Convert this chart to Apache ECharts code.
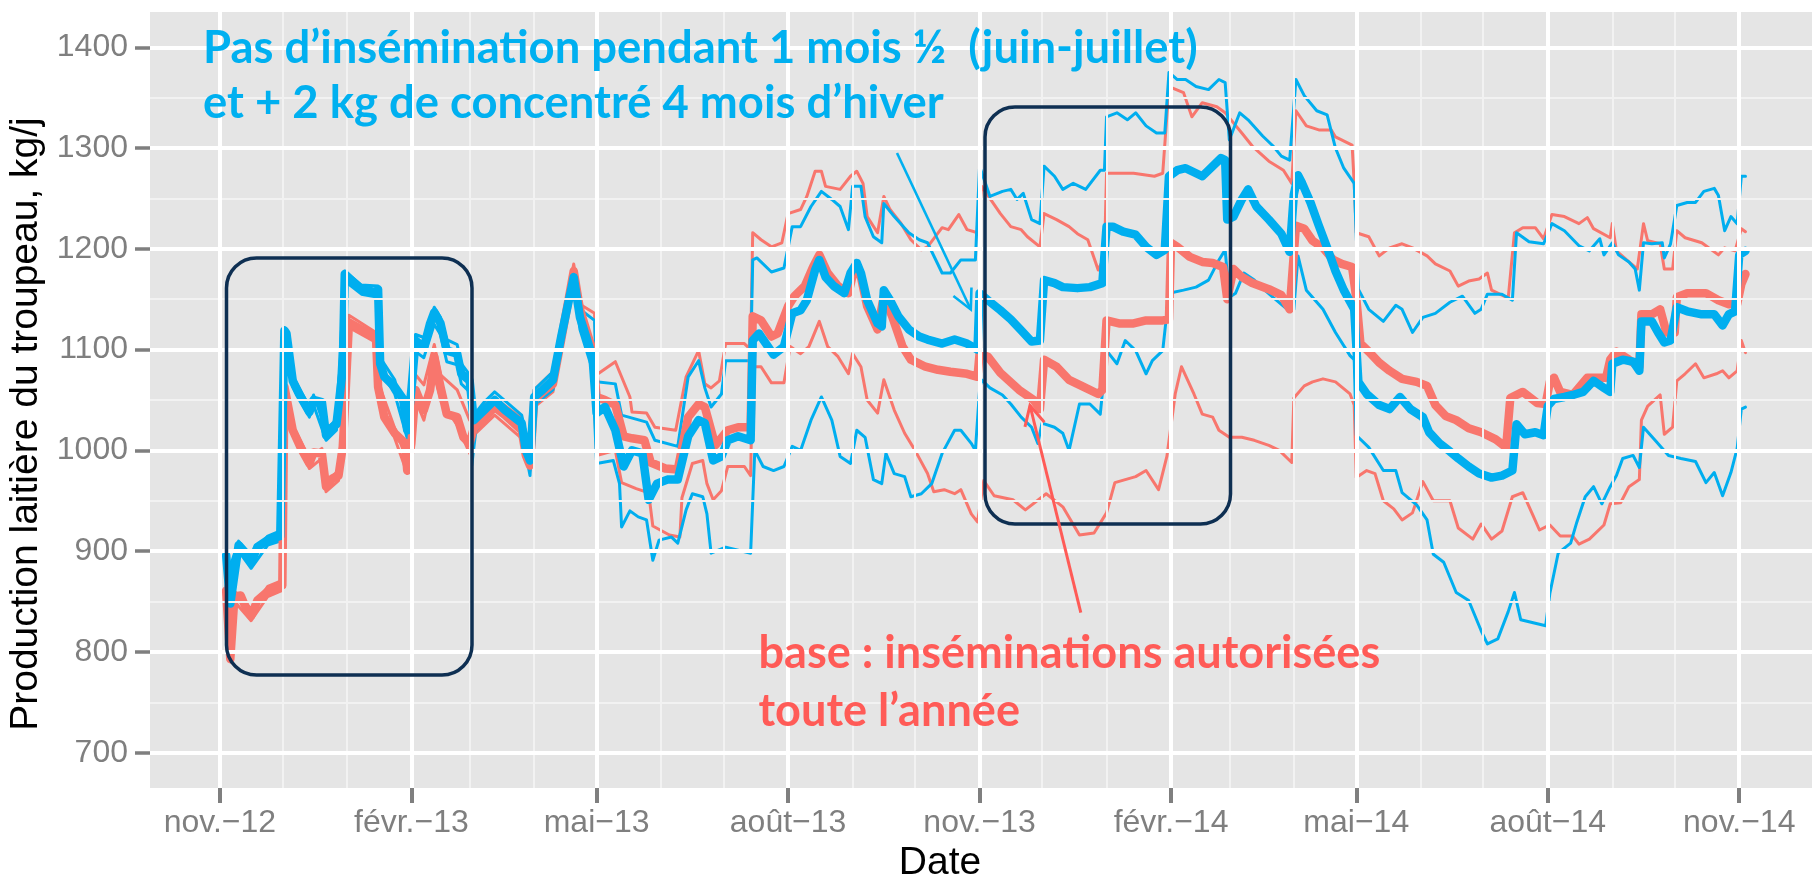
<!DOCTYPE html>
<html>
<head>
<meta charset="utf-8">
<script src="https://cdn.jsdelivr.net/npm/echarts@6/dist/echarts.min.js"></script>
<style>
  html, body { margin: 0; padding: 0; background: #fff; }
  #chart { width: 1812px; height: 875px; }
</style>
</head>
<body>
<div id="chart"></div>
<script>
// axis ticks
const xTickDates = ['2012-11-01', '2013-02-01', '2013-05-01', '2013-08-01', '2013-11-01', '2014-02-01', '2014-05-01', '2014-08-01', '2014-11-01']
const xTickLabels = ['nov.−12', 'févr.−13', 'mai−13', 'août−13', 'nov.−13', 'févr.−14', 'mai−14', 'août−14', 'nov.−14']
const xMinorDates = ['2012-12-01', '2013-01-01', '2013-03-01', '2013-04-01', '2013-06-01', '2013-07-01', '2013-09-01', '2013-10-01',
  '2013-12-01', '2014-01-01', '2014-03-01', '2014-04-01', '2014-06-01', '2014-07-01', '2014-09-01', '2014-10-01']
const yTicks = [700, 800, 900, 1000, 1100, 1200, 1300, 1400]
const yMinor = [750, 850, 950, 1050, 1150, 1250, 1350]

// base : inséminations autorisées toute l'année (rouge)
const baseMean = [['2012-11-04',861],['2012-11-06',793],['2012-11-08',855],['2012-11-11',856],['2012-11-13',846],['2012-11-16',836],['2012-11-19',851],['2012-11-24',860],['2012-12-01',866],['2012-12-02',1063],['2012-12-06',1020],['2012-12-10',1002],['2012-12-14',987],['2012-12-16',998],['2012-12-20',997],['2012-12-22',964],['2012-12-25',972],['2012-12-28',975],['2012-12-30',1003],['2012-12-31',1040],['2013-01-02',1127],['2013-01-08',1120],['2013-01-15',1112],['2013-01-16',1063],['2013-01-19',1033],['2013-01-24',1017],['2013-01-29',1007],['2013-01-30',980],['2013-02-01',1007],['2013-02-03',1060],['2013-02-07',1040],['2013-02-10',1060],['2013-02-12',1093],['2013-02-15',1063],['2013-02-18',1036],['2013-02-23',1033],['2013-02-26',1013],['2013-03-01',1007],['2013-03-03',1022],['2013-03-08',1032],['2013-03-13',1043],['2013-03-18',1035],['2013-03-26',1020],['2013-03-28',995],['2013-03-30',985],['2013-04-01',1050],['2013-04-05',1058],['2013-04-10',1066],['2013-04-14',1110],['2013-04-20',1178],['2013-04-23',1140],['2013-04-27',1113],['2013-04-29',1100],['2013-05-01',1053],['2013-05-05',1050],['2013-05-10',1045],['2013-05-14',1014],['2013-05-18',1012],['2013-05-24',1010],['2013-05-27',988],['2013-06-03',982],['2013-06-09',981],['2013-06-14',1033],['2013-06-19',1046],['2013-06-22',1043],['2013-06-27',1005],['2013-07-03',1020],['2013-07-08',1023],['2013-07-14',1023],['2013-07-15',1133],['2013-07-19',1129],['2013-07-24',1113],['2013-07-27',1116],['2013-08-01',1143],['2013-08-04',1153],['2013-08-09',1163],['2013-08-13',1182],['2013-08-16',1194],['2013-08-20',1176],['2013-08-25',1163],['2013-08-30',1156],['2013-09-02',1182],['2013-09-05',1172],['2013-09-08',1143],['2013-09-13',1120],['2013-09-16',1153],['2013-09-20',1133],['2013-09-25',1103],['2013-09-29',1090],['2013-10-06',1083],['2013-10-12',1080],['2013-10-18',1078],['2013-10-26',1076],['2013-10-31',1073],['2013-11-01',1096],['2013-11-05',1093],['2013-11-11',1077],['2013-11-20',1060],['2013-11-27',1050],['2013-11-30',1041],['2013-12-02',1090],['2013-12-08',1083],['2013-12-14',1070],['2013-12-21',1063],['2013-12-28',1056],['2013-12-30',1060],['2014-01-01',1129],['2014-01-07',1126],['2014-01-14',1126],['2014-01-20',1129],['2014-01-28',1129],['2014-01-31',1130],['2014-02-01',1206],['2014-02-04',1202],['2014-02-10',1192],['2014-02-16',1187],['2014-02-21',1186],['2014-02-26',1182],['2014-02-28',1150],['2014-03-03',1180],['2014-03-07',1172],['2014-03-12',1166],['2014-03-20',1160],['2014-03-26',1154],['2014-03-30',1140],['2014-04-02',1223],['2014-04-06',1220],['2014-04-10',1208],['2014-04-15',1201],['2014-04-20',1189],['2014-04-24',1185],['2014-04-29',1182],['2014-05-01',1151],['2014-05-03',1106],['2014-05-07',1098],['2014-05-12',1087],['2014-05-17',1079],['2014-05-23',1071],['2014-05-30',1068],['2014-06-04',1064],['2014-06-08',1045],['2014-06-13',1034],['2014-06-18',1030],['2014-06-24',1022],['2014-06-30',1018],['2014-07-07',1011],['2014-07-12',1003],['2014-07-14',1052],['2014-07-20',1058],['2014-07-27',1047],['2014-07-31',1046],['2014-08-02',1068],['2014-08-04',1072],['2014-08-07',1058],['2014-08-13',1055],['2014-08-20',1072],['2014-08-29',1072],['2014-08-31',1090],['2014-09-03',1098],['2014-09-09',1090],['2014-09-14',1083],['2014-09-15',1135],['2014-09-20',1135],['2014-09-24',1140],['2014-09-27',1117],['2014-10-01',1117],['2014-10-02',1152],['2014-10-07',1156],['2014-10-16',1156],['2014-10-22',1149],['2014-10-27',1145],['2014-10-31',1145],['2014-11-02',1165],['2014-11-04',1175]]
const baseHigh = [['2012-11-04',866],['2012-11-06',800],['2012-11-08',860],['2012-11-13',851],['2012-11-16',841],['2012-11-24',865],['2012-12-01',871],['2012-12-02',1068],['2012-12-06',1025],['2012-12-14',992],['2012-12-20',1002],['2012-12-22',969],['2012-12-28',980],['2012-12-31',1045],['2013-01-02',1134],['2013-01-15',1117],['2013-01-16',1068],['2013-01-24',1022],['2013-01-30',990],['2013-02-03',1075],['2013-02-07',1065],['2013-02-12',1105],['2013-02-15',1075],['2013-02-23',1060],['2013-03-01',1030],['2013-03-08',1045],['2013-03-13',1052],['2013-03-26',1032],['2013-03-30',995],['2013-04-01',1060],['2013-04-10',1078],['2013-04-20',1185],['2013-04-23',1145],['2013-04-30',1136],['2013-05-01',1075],['2013-05-10',1088],['2013-05-17',1053],['2013-05-18',1038],['2013-05-25',1037],['2013-05-29',1023],['2013-06-08',1020],['2013-06-13',1073],['2013-06-19',1099],['2013-06-22',1066],['2013-06-25',1062],['2013-06-29',1069],['2013-07-02',1106],['2013-07-11',1106],['2013-07-14',1100],['2013-07-15',1216],['2013-07-19',1209],['2013-07-24',1202],['2013-07-29',1206],['2013-08-01',1235],['2013-08-07',1239],['2013-08-10',1252],['2013-08-14',1277],['2013-08-17',1277],['2013-08-19',1262],['2013-08-26',1259],['2013-08-31',1272],['2013-09-03',1277],['2013-09-06',1265],['2013-09-08',1232],['2013-09-13',1216],['2013-09-16',1252],['2013-09-19',1239],['2013-09-24',1226],['2013-09-29',1209],['2013-10-04',1199],['2013-10-07',1202],['2013-10-14',1221],['2013-10-17',1219],['2013-10-22',1234],['2013-10-26',1219],['2013-10-31',1216],['2013-11-02',1262],['2013-11-11',1235],['2013-11-16',1222],['2013-11-21',1219],['2013-11-24',1212],['2013-11-30',1202],['2013-12-02',1235],['2013-12-08',1229],['2013-12-14',1222],['2013-12-18',1215],['2013-12-23',1209],['2013-12-28',1179],['2013-12-31',1192],['2014-01-01',1275],['2014-01-08',1275],['2014-01-14',1275],['2014-01-24',1272],['2014-01-28',1275],['2014-01-31',1361],['2014-02-07',1355],['2014-02-11',1331],['2014-02-16',1345],['2014-02-23',1341],['2014-02-27',1335],['2014-03-03',1325],['2014-03-07',1315],['2014-03-12',1302],['2014-03-20',1287],['2014-03-27',1278],['2014-03-31',1265],['2014-04-02',1337],['2014-04-07',1322],['2014-04-13',1318],['2014-04-19',1318],['2014-04-21',1311],['2014-04-29',1303],['2014-04-30',1265],['2014-05-01',1216],['2014-05-07',1212],['2014-05-12',1193],['2014-05-17',1201],['2014-05-23',1205],['2014-05-28',1201],['2014-06-04',1193],['2014-06-08',1185],['2014-06-15',1178],['2014-06-19',1163],['2014-06-24',1168],['2014-06-29',1170],['2014-07-03',1176],['2014-07-05',1159],['2014-07-13',1151],['2014-07-16',1216],['2014-07-20',1221],['2014-07-26',1221],['2014-07-30',1210],['2014-08-03',1234],['2014-08-09',1232],['2014-08-16',1225],['2014-08-20',1231],['2014-08-23',1220],['2014-08-31',1211],['2014-09-01',1225],['2014-09-03',1198],['2014-09-09',1187],['2014-09-13',1180],['2014-09-16',1225],['2014-09-18',1208],['2014-09-24',1205],['2014-09-26',1180],['2014-09-30',1180],['2014-10-02',1218],['2014-10-06',1211],['2014-10-14',1206],['2014-10-22',1194],['2014-10-25',1201],['2014-10-30',1198],['2014-11-02',1220],['2014-11-04',1217]]
const baseLow = [['2012-11-04',856],['2012-11-06',790],['2012-11-08',850],['2012-11-16',831],['2012-11-24',855],['2012-12-01',861],['2012-12-02',1058],['2012-12-06',1015],['2012-12-14',982],['2012-12-20',992],['2012-12-22',959],['2012-12-28',970],['2012-12-31',1035],['2013-01-02',1122],['2013-01-15',1107],['2013-01-16',1058],['2013-01-24',1012],['2013-01-30',977],['2013-02-03',1050],['2013-02-07',1030],['2013-02-12',1075],['2013-02-15',1050],['2013-02-23',1025],['2013-03-01',997],['2013-03-03',1015],['2013-03-13',1035],['2013-03-26',1012],['2013-03-30',980],['2013-04-01',1043],['2013-04-10',1058],['2013-04-20',1170],['2013-04-23',1130],['2013-04-29',1090],['2013-05-01',995],['2013-05-10',1000],['2013-05-13',968],['2013-05-20',962],['2013-05-26',958],['2013-05-28',925],['2013-06-05',916],['2013-06-10',914],['2013-06-11',953],['2013-06-16',987],['2013-06-21',990],['2013-06-23',967],['2013-06-26',951],['2013-06-30',960],['2013-07-03',984],['2013-07-11',984],['2013-07-14',975],['2013-07-15',1083],['2013-07-19',1083],['2013-07-24',1067],['2013-07-30',1067],['2013-08-02',1103],['2013-08-07',1096],['2013-08-11',1103],['2013-08-16',1128],['2013-08-20',1103],['2013-08-25',1093],['2013-08-30',1076],['2013-09-01',1096],['2013-09-05',1083],['2013-09-08',1050],['2013-09-13',1037],['2013-09-16',1070],['2013-09-21',1040],['2013-09-26',1017],['2013-10-01',1000],['2013-10-07',977],['2013-10-10',959],['2013-10-15',961],['2013-10-20',957],['2013-10-23',961],['2013-10-28',937],['2013-10-31',929],['2013-11-03',970],['2013-11-08',955],['2013-11-17',951],['2013-11-23',941],['2013-12-03',957],['2013-12-11',944],['2013-12-19',916],['2013-12-26',918],['2014-01-01',938],['2014-01-05',968],['2014-01-15',974],['2014-01-20',980],['2014-01-26',961],['2014-01-30',994],['2014-02-03',1056],['2014-02-06',1083],['2014-02-12',1056],['2014-02-16',1036],['2014-02-21',1033],['2014-02-24',1020],['2014-03-01',1013],['2014-03-07',1013],['2014-03-13',1010],['2014-03-20',1005],['2014-03-25',1000],['2014-03-31',988],['2014-04-01',1052],['2014-04-06',1064],['2014-04-10',1068],['2014-04-15',1071],['2014-04-21',1068],['2014-04-28',1056],['2014-04-30',1045],['2014-05-01',973],['2014-05-06',980],['2014-05-10',977],['2014-05-14',950],['2014-05-19',942],['2014-05-23',931],['2014-05-28',938],['2014-06-02',969],['2014-06-07',950],['2014-06-15',950],['2014-06-19',923],['2014-06-26',912],['2014-06-30',927],['2014-07-05',912],['2014-07-10',920],['2014-07-15',954],['2014-07-20',958],['2014-07-25',935],['2014-07-28',921],['2014-08-02',926],['2014-08-07',915],['2014-08-13',915],['2014-08-16',907],['2014-08-21',912],['2014-08-28',926],['2014-08-31',947],['2014-09-05',948],['2014-09-09',964],['2014-09-14',971],['2014-09-15',1030],['2014-09-18',1044],['2014-09-24',1055],['2014-09-26',1016],['2014-09-30',1023],['2014-10-02',1069],['2014-10-06',1076],['2014-10-11',1086],['2014-10-15',1072],['2014-10-21',1076],['2014-10-24',1079],['2014-10-27',1072],['2014-10-31',1079],['2014-11-02',1109],['2014-11-04',1097]]

// pas d'insémination 1 mois ½ + 2 kg de concentré (bleu)
const altMean = [['2012-11-04',896],['2012-11-06',848],['2012-11-10',906],['2012-11-13',899],['2012-11-16',889],['2012-11-19',904],['2012-11-24',911],['2012-11-30',915],['2012-12-02',1119],['2012-12-03',1116],['2012-12-06',1069],['2012-12-09',1056],['2012-12-14',1038],['2012-12-16',1050],['2012-12-20',1048],['2012-12-22',1015],['2012-12-25',1023],['2012-12-27',1026],['2012-12-30',1080],['2012-12-31',1175],['2013-01-03',1169],['2013-01-08',1160],['2013-01-15',1157],['2013-01-16',1160],['2013-01-17',1086],['2013-01-19',1073],['2013-01-24',1063],['2013-01-28',1051],['2013-01-30',1020],['2013-02-01',1060],['2013-02-03',1109],['2013-02-07',1102],['2013-02-10',1126],['2013-02-12',1137],['2013-02-15',1126],['2013-02-18',1099],['2013-02-23',1096],['2013-02-25',1076],['2013-03-01',1069],['2013-03-03',1030],['2013-03-08',1040],['2013-03-13',1050],['2013-03-18',1040],['2013-03-26',1027],['2013-03-28',1000],['2013-03-30',990],['2013-04-01',1053],['2013-04-05',1060],['2013-04-10',1070],['2013-04-14',1113],['2013-04-20',1172],['2013-04-23',1132],['2013-04-27',1106],['2013-04-29',1093],['2013-05-01',1037],['2013-05-05',1043],['2013-05-10',1020],['2013-05-14',984],['2013-05-18',1000],['2013-05-23',997],['2013-05-26',951],['2013-05-30',967],['2013-06-04',971],['2013-06-09',971],['2013-06-14',1014],['2013-06-19',1030],['2013-06-22',1027],['2013-06-26',990],['2013-06-30',994],['2013-07-03',1010],['2013-07-08',1014],['2013-07-14',1010],['2013-07-15',1109],['2013-07-18',1116],['2013-07-25',1095],['2013-07-30',1103],['2013-08-03',1136],['2013-08-07',1139],['2013-08-10',1149],['2013-08-14',1179],['2013-08-16',1189],['2013-08-19',1172],['2013-08-23',1163],['2013-08-28',1156],['2013-08-31',1176],['2013-09-03',1186],['2013-09-05',1176],['2013-09-08',1149],['2013-09-13',1126],['2013-09-15',1123],['2013-09-16',1159],['2013-09-19',1149],['2013-09-23',1133],['2013-09-28',1120],['2013-10-03',1113],['2013-10-07',1110],['2013-10-14',1106],['2013-10-20',1110],['2013-10-26',1106],['2013-10-31',1100],['2013-11-01',1156],['2013-11-05',1149],['2013-11-11',1139],['2013-11-16',1130],['2013-11-21',1119],['2013-11-26',1108],['2013-11-30',1109],['2013-12-02',1169],['2013-12-07',1166],['2013-12-11',1162],['2013-12-18',1161],['2013-12-24',1162],['2013-12-30',1166],['2014-01-01',1222],['2014-01-04',1222],['2014-01-09',1217],['2014-01-15',1214],['2014-01-20',1202],['2014-01-25',1194],['2014-01-29',1199],['2014-01-31',1272],['2014-02-04',1278],['2014-02-08',1280],['2014-02-13',1275],['2014-02-16',1272],['2014-02-19',1278],['2014-02-25',1290],['2014-02-27',1288],['2014-02-28',1229],['2014-03-03',1232],['2014-03-07',1249],['2014-03-10',1259],['2014-03-14',1242],['2014-03-20',1229],['2014-03-26',1215],['2014-03-30',1197],['2014-04-01',1254],['2014-04-03',1273],['2014-04-05',1265],['2014-04-09',1246],['2014-04-13',1223],['2014-04-17',1201],['2014-04-21',1178],['2014-04-25',1159],['2014-04-30',1140],['2014-05-02',1068],['2014-05-06',1056],['2014-05-12',1045],['2014-05-17',1041],['2014-05-22',1053],['2014-05-27',1041],['2014-06-02',1033],['2014-06-05',1018],['2014-06-10',1007],['2014-06-15',999],['2014-06-19',992],['2014-06-24',984],['2014-06-29',977],['2014-07-05',973],['2014-07-10',975],['2014-07-15',980],['2014-07-17',1026],['2014-07-21',1016],['2014-07-26',1018],['2014-07-30',1015],['2014-08-01',1044],['2014-08-04',1051],['2014-08-09',1053],['2014-08-13',1055],['2014-08-18',1058],['2014-08-23',1069],['2014-08-28',1062],['2014-08-31',1058],['2014-09-01',1086],['2014-09-06',1090],['2014-09-11',1088],['2014-09-14',1079],['2014-09-15',1128],['2014-09-20',1128],['2014-09-23',1117],['2014-09-26',1107],['2014-09-29',1109],['2014-10-02',1142],['2014-10-07',1138],['2014-10-14',1135],['2014-10-20',1135],['2014-10-24',1124],['2014-10-27',1135],['2014-10-30',1138],['2014-11-01',1194],['2014-11-04',1198]]
const altHigh = [['2012-11-04',900],['2012-11-06',885],['2012-11-10',910],['2012-11-16',895],['2012-11-24',915],['2012-11-30',920],['2012-12-02',1122],['2012-12-06',1074],['2012-12-14',1043],['2012-12-16',1055],['2012-12-22',1020],['2012-12-27',1031],['2012-12-31',1178],['2013-01-08',1164],['2013-01-16',1163],['2013-01-17',1092],['2013-01-24',1070],['2013-01-30',1028],['2013-02-01',1070],['2013-02-03',1115],['2013-02-07',1112],['2013-02-12',1142],['2013-02-15',1132],['2013-02-18',1110],['2013-02-23',1105],['2013-02-25',1086],['2013-03-01',1075],['2013-03-03',1035],['2013-03-08',1048],['2013-03-13',1058],['2013-03-26',1035],['2013-03-30',998],['2013-04-01',1060],['2013-04-10',1078],['2013-04-20',1180],['2013-04-23',1140],['2013-04-30',1129],['2013-05-01',1068],['2013-05-10',1066],['2013-05-13',1035],['2013-05-25',1028],['2013-05-29',1010],['2013-06-09',1004],['2013-06-14',1073],['2013-06-19',1089],['2013-06-22',1062],['2013-06-25',1043],['2013-06-30',1056],['2013-07-02',1089],['2013-07-14',1089],['2013-07-15',1189],['2013-07-17',1191],['2013-07-24',1177],['2013-07-30',1181],['2013-08-03',1222],['2013-08-07',1222],['2013-08-12',1242],['2013-08-17',1257],['2013-08-22',1249],['2013-08-26',1242],['2013-08-30',1219],['2013-09-01',1262],['2013-09-05',1262],['2013-09-07',1232],['2013-09-11',1212],['2013-09-15',1206],['2013-09-16',1245],['2013-09-21',1232],['2013-09-28',1216],['2013-10-03',1209],['2013-10-07',1206],['2013-10-14',1176],['2013-10-18',1176],['2013-10-23',1189],['2013-10-30',1189],['2013-11-01',1282],['2013-11-06',1252],['2013-11-12',1257],['2013-11-16',1259],['2013-11-19',1249],['2013-11-22',1255],['2013-11-26',1229],['2013-11-30',1225],['2013-12-02',1282],['2013-12-07',1272],['2013-12-11',1259],['2013-12-16',1265],['2013-12-22',1259],['2013-12-29',1278],['2013-12-31',1278],['2014-01-01',1331],['2014-01-06',1335],['2014-01-11',1328],['2014-01-15',1335],['2014-01-20',1322],['2014-01-25',1315],['2014-01-29',1315],['2014-01-31',1375],['2014-02-04',1368],['2014-02-08',1368],['2014-02-13',1361],['2014-02-19',1358],['2014-02-24',1368],['2014-02-27',1365],['2014-03-01',1308],['2014-03-06',1335],['2014-03-10',1328],['2014-03-17',1312],['2014-03-22',1302],['2014-03-26',1292],['2014-03-30',1288],['2014-04-02',1368],['2014-04-06',1352],['2014-04-12',1337],['2014-04-17',1333],['2014-04-21',1300],['2014-04-25',1280],['2014-04-30',1265],['2014-05-02',1160],['2014-05-07',1140],['2014-05-14',1128],['2014-05-20',1144],['2014-05-23',1140],['2014-05-28',1117],['2014-06-02',1132],['2014-06-08',1136],['2014-06-15',1147],['2014-06-21',1153],['2014-06-27',1136],['2014-06-30',1140],['2014-07-03',1155],['2014-07-10',1155],['2014-07-15',1149],['2014-07-17',1216],['2014-07-23',1207],['2014-07-30',1205],['2014-08-03',1225],['2014-08-09',1218],['2014-08-16',1203],['2014-08-21',1198],['2014-08-26',1210],['2014-08-28',1194],['2014-09-01',1206],['2014-09-04',1194],['2014-09-09',1187],['2014-09-12',1180],['2014-09-14',1159],['2014-09-16',1206],['2014-09-20',1205],['2014-09-25',1206],['2014-09-26',1191],['2014-09-29',1205],['2014-10-02',1243],['2014-10-07',1246],['2014-10-11',1246],['2014-10-15',1257],['2014-10-20',1260],['2014-10-22',1253],['2014-10-25',1218],['2014-10-28',1232],['2014-10-31',1225],['2014-11-02',1272],['2014-11-04',1272]]
const altLow = [['2012-11-04',890],['2012-11-06',840],['2012-11-10',900],['2012-11-16',883],['2012-11-24',906],['2012-11-30',910],['2012-12-02',1110],['2012-12-06',1063],['2012-12-14',1033],['2012-12-16',1045],['2012-12-22',1010],['2012-12-27',1020],['2012-12-31',1168],['2013-01-08',1155],['2013-01-16',1152],['2013-01-17',1080],['2013-01-24',1056],['2013-01-30',1012],['2013-02-01',1050],['2013-02-03',1098],['2013-02-07',1092],['2013-02-12',1125],['2013-02-15',1115],['2013-02-18',1088],['2013-02-23',1085],['2013-02-25',1066],['2013-03-01',1058],['2013-03-02',985],['2013-03-04',1020],['2013-03-08',1030],['2013-03-13',1042],['2013-03-26',1018],['2013-03-30',975],['2013-04-01',1045],['2013-04-10',1060],['2013-04-20',1165],['2013-04-23',1120],['2013-04-29',1080],['2013-05-01',987],['2013-05-09',990],['2013-05-12',967],['2013-05-13',924],['2013-05-17',940],['2013-05-21',934],['2013-05-25',931],['2013-05-28',891],['2013-05-31',911],['2013-06-06',914],['2013-06-09',908],['2013-06-13',941],['2013-06-16',957],['2013-06-21',954],['2013-06-23',937],['2013-06-25',898],['2013-07-02',904],['2013-07-14',898],['2013-07-16',1000],['2013-07-20',984],['2013-07-25',980],['2013-07-30',984],['2013-08-03',1004],['2013-08-07',1000],['2013-08-12',1030],['2013-08-17',1053],['2013-08-22',1030],['2013-08-26',994],['2013-08-31',987],['2013-09-03',1020],['2013-09-07',1013],['2013-09-11',971],['2013-09-15',967],['2013-09-17',997],['2013-09-21',977],['2013-09-26',974],['2013-09-29',954],['2013-10-04',957],['2013-10-09',967],['2013-10-14',997],['2013-10-20',1020],['2013-10-23',1020],['2013-10-28',1007],['2013-10-30',1000],['2013-11-01',1060],['2013-11-02',1070],['2013-11-06',1062],['2013-11-12',1055],['2013-11-16',1046],['2013-11-21',1033],['2013-11-26',1023],['2013-11-29',1007],['2013-12-01',1027],['2013-12-07',1023],['2013-12-11',1017],['2013-12-14',1000],['2013-12-19',1046],['2013-12-24',1046],['2013-12-29',1036],['2014-01-01',1099],['2014-01-06',1086],['2014-01-10',1109],['2014-01-15',1099],['2014-01-20',1076],['2014-01-23',1089],['2014-01-28',1099],['2014-01-31',1156],['2014-02-07',1159],['2014-02-13',1162],['2014-02-19',1169],['2014-02-24',1189],['2014-02-27',1199],['2014-03-01',1152],['2014-03-04',1156],['2014-03-08',1176],['2014-03-13',1169],['2014-03-18',1159],['2014-03-23',1150],['2014-03-30',1138],['2014-04-01',1140],['2014-04-03',1193],['2014-04-07',1159],['2014-04-15',1140],['2014-04-21',1117],['2014-04-28',1094],['2014-04-30',1090],['2014-05-01',1015],['2014-05-07',1003],['2014-05-14',980],['2014-05-20',980],['2014-05-23',958],['2014-05-30',946],['2014-06-04',931],['2014-06-07',897],['2014-06-12',889],['2014-06-18',859],['2014-06-24',851],['2014-06-30',821],['2014-07-03',808],['2014-07-08',813],['2014-07-13',840],['2014-07-16',859],['2014-07-19',832],['2014-07-31',826],['2014-08-02',858],['2014-08-06',898],['2014-08-12',908],['2014-08-15',929],['2014-08-19',954],['2014-08-23',964],['2014-08-27',947],['2014-08-31',964],['2014-09-03',975],['2014-09-06',992],['2014-09-11',995],['2014-09-14',983],['2014-09-16',1023],['2014-09-22',1009],['2014-09-28',995],['2014-10-04',992],['2014-10-11',989],['2014-10-16',968],['2014-10-20',978],['2014-10-24',955],['2014-10-28',978],['2014-10-31',1002],['2014-11-02',1041],['2014-11-04',1043]]

const RED = '#F8766D'
const BLUE = '#00AEEF'
const GREY = '#7F7F7F'
const parse = s => echarts.time.parse(s).getTime()
const toXY = arr => arr.map(([d, v]) => [parse(d), v])

const chart = echarts.init(document.getElementById('chart'), null, { renderer: 'canvas' })

// annotation text sizing (Calibri-like bold, fitted to the slide widths)
const blueLines = ['Pas d’insémination pendant 1 mois ½  (juin-juillet)', 'et + 2 kg de concentré 4 mois d’hiver']
const redLines = ['base : inséminations autorisées', 'toute l’année']
const ctx = document.createElement('canvas').getContext('2d')
function fitSize(text, width) {
  ctx.font = 'bold 100px Lato'
  return 100 * width / ctx.measureText(text).width
}
const blueSize = fitSize(blueLines[0], 995)
const redSize = fitSize(redLines[0], 622)

function label(text, x, y, size, color) {
  return {
    type: 'text', x: x, y: y, z: 100,
    style: { text: text, fontSize: size, fontWeight: 'bold', fontFamily: 'Lato', fill: color, align: 'left', verticalAlign: 'middle' }
  }
}
function arrow(x1, y1, x2, y2, color, width) {
  const a = Math.atan2(y2 - y1, x2 - x1)
  const len = 22, t = 27 * Math.PI / 180
  const p1 = [x2 - len * Math.cos(a - t), y2 - len * Math.sin(a - t)]
  const p2 = [x2 - len * Math.cos(a + t), y2 - len * Math.sin(a + t)]
  return [
    { type: 'line', z: 100, shape: { x1: x1, y1: y1, x2: x2, y2: y2 }, style: { stroke: color, lineWidth: width } },
    { type: 'polyline', z: 100, shape: { points: [p1, [x2, y2], p2] }, style: { stroke: color, lineWidth: width, fill: null } }
  ]
}
function box(x, y) {
  return {
    type: 'rect', z: 100, shape: { x: x, y: y, width: 245.5, height: 417, r: 30 },
    style: { fill: null, stroke: '#0E2F52', lineWidth: 3.5 }
  }
}

function lineSeries(name, data, color, width) {
  return {
    name: name, type: 'line', data: toXY(data), showSymbol: false, symbol: 'none', z: 3,
    lineStyle: { color: color, width: width, cap: 'round', join: 'round' },
    emphasis: { disabled: true }
  }
}

const gridLines = []
xMinorDates.forEach(d => gridLines.push({ xAxis: parse(d), lineStyle: { color: '#F2F2F2', width: 2, type: 'solid' } }))
yMinor.forEach(v => gridLines.push({ yAxis: v, lineStyle: { color: '#F2F2F2', width: 2, type: 'solid' } }))
xTickDates.forEach(d => gridLines.push({ xAxis: parse(d), lineStyle: { color: '#FFFFFF', width: 4, type: 'solid' } }))
yTicks.forEach(v => gridLines.push({ yAxis: v, lineStyle: { color: '#FFFFFF', width: 4, type: 'solid' } }))

const xTickTimes = xTickDates.map(parse)

const option = {
  animation: false,
  backgroundColor: '#FFFFFF',
  grid: {
    left: 150, right: 0, top: 12, bottom: 87, show: true, backgroundColor: '#E5E5E5', borderWidth: 0,
    outerBoundsMode: 'none', containLabel: false
  },
  xAxis: {
    type: 'value',
    min: parse('2012-09-28 10:00:00'),
    max: parse('2014-12-05 23:00:00'),
    axisLine: { show: false },
    axisTick: { show: true, customValues: xTickTimes, length: 15, lineStyle: { color: GREY, width: 4 } },
    axisLabel: {
      customValues: xTickTimes, color: GREY, fontSize: 32, fontFamily: 'Liberation Sans', margin: 19,
      formatter: v => { const i = xTickTimes.indexOf(v); return i >= 0 ? xTickLabels[i] : '' }
    },
    splitLine: { show: false },
    name: 'Date', nameLocation: 'middle', nameGap: 52,
    nameTextStyle: { fontSize: 39, color: '#000', fontFamily: 'Liberation Sans', padding: [0, 82, 0, 0] }
  },
  yAxis: {
    type: 'value', min: 665, max: 1435,
    axisLine: { show: false },
    axisTick: { show: true, customValues: yTicks, length: 15, lineStyle: { color: GREY, width: 3.5 } },
    axisLabel: {
      customValues: yTicks, color: GREY, fontSize: 32, fontFamily: 'Liberation Sans', margin: 22,
      formatter: v => String(v)
    },
    splitLine: { show: false },
    name: 'Production laitière du troupeau, kg/j', nameLocation: 'middle', nameRotate: 90, nameGap: 93,
    nameTextStyle: { fontSize: 39, color: '#000', fontFamily: 'Liberation Sans', padding: [0, 48, 0, 0] }
  },
  series: [
    {
      name: 'grille', type: 'line', data: [], z: 1, silent: true,
      markLine: { silent: true, symbol: ['none', 'none'], label: { show: false }, animation: false, data: gridLines }
    },
    lineSeries('base max', baseHigh, RED, 3),
    lineSeries('base min', baseLow, RED, 3),
    lineSeries('scénario max', altHigh, BLUE, 3),
    lineSeries('scénario min', altLow, BLUE, 3),
    lineSeries('base', baseMean, RED, 8.5),
    lineSeries('scénario', altMean, BLUE, 8.5)
  ],
  graphic: [
    box(226.5, 258),
    box(985, 107),
    ...arrow(897, 153, 970.8, 309.5, '#00B0F0', 2.6),
    ...arrow(1080.8, 612.7, 1030, 405.5, '#FF5B57', 3),
    label(blueLines[0], 203, 48, blueSize, '#00B0F0'),
    label(blueLines[1], 203, 103, blueSize, '#00B0F0'),
    label(redLines[0], 758.5, 653, redSize, '#FF5B57'),
    label(redLines[1], 758.5, 711, redSize, '#FF5B57')
  ]
}
chart.setOption(option)
</script>
</body>
</html>
